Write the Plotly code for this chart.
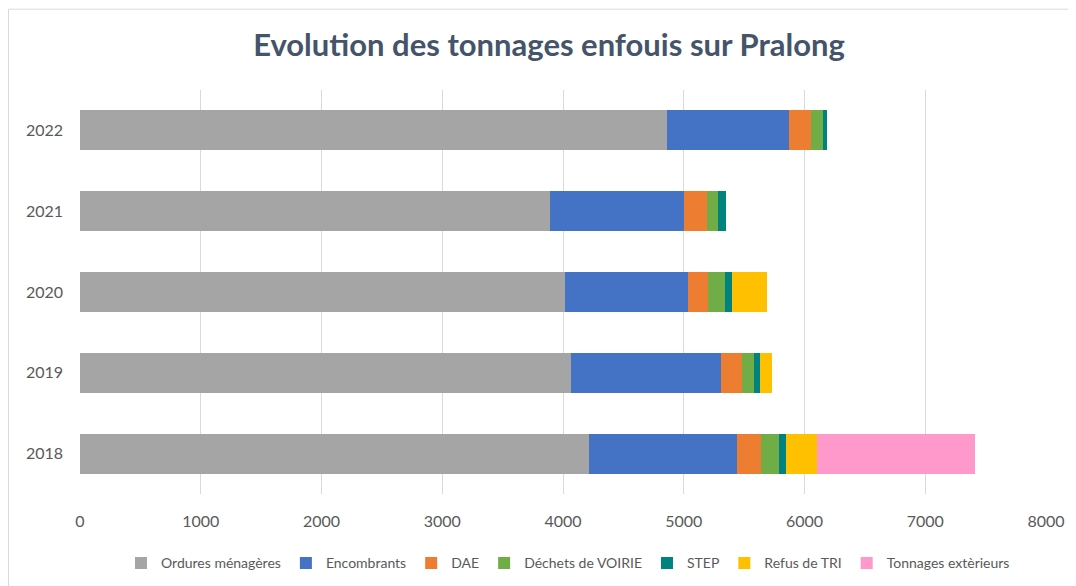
import plotly.graph_objects as go

years = ["2018", "2019", "2020", "2021", "2022"]
series_names = ["Ordures ménagères", "Encombrants", "DAE", "Déchets de VOIRIE",
                "STEP", "Refus de TRI", "Tonnages extèrieurs"]
ordures = [4212, 4066, 4017, 3892, 4864]
encombrants = [1226, 1240, 1015, 1107, 1008]
dae = [204, 176, 169, 196, 185]
voirie = [143, 100, 138, 92, 94]
step = [62, 52, 61, 60, 32]
refus = [259, 94, 292, 0, 0]
exterieurs = [1303, 0, 0, 0, 0]
colors = ["#A5A5A5", "#4472C4", "#ED7D31", "#70AD47", "#00827F", "#FFC000", "#FF99CC"]
x_ticks = [0, 1000, 2000, 3000, 4000, 5000, 6000, 7000, 8000]

values = [ordures, encombrants, dae, voirie, step, refus, exterieurs]

fig = go.Figure()
for name, vals, col in zip(series_names, values, colors):
    fig.add_trace(go.Bar(y=years, x=vals, name=name, orientation="h",
                         marker=dict(color=col, line=dict(width=0))))

OFF = 8  # browser body margin
W, H = 1076 - OFF, 586 - OFF
l, r, t, b = 80 - OFF, 30, 89.5 - OFF, 91.5
pw, ph = W - l - r, H - t - b

def px(xp):
    return (xp - OFF - l) / pw

def py(yp):
    return (H - b - (yp - OFF)) / ph

fig.update_layout(
    width=W, height=H,
    barmode="stack", bargap=0.505,
    margin=dict(l=l, r=r, t=t, b=b, pad=0, autoexpand=False),
    paper_bgcolor="white", plot_bgcolor="white",
    font=dict(family="Lato, Open Sans, sans-serif", color="#595959", size=15),
    title=dict(text="<b>Evolution des tonnages enfouis sur Pralong</b>",
               x=(549 - OFF) / W, xanchor="center", xref="container",
               y=1 - (45 - OFF) / H, yref="container", yanchor="middle",
               font=dict(size=31, color="#44546A", family="Lato, Open Sans, sans-serif")),
    xaxis=dict(range=[0, 8000], tickvals=x_ticks, showgrid=True, gridcolor="#D9D9D9",
               gridwidth=1, zeroline=False, showline=False, ticks="",
               ticklabelstandoff=16,
               tickfont=dict(size=16, color="#595959"), fixedrange=True),
    yaxis=dict(type="category", categoryorder="array", categoryarray=years,
               showgrid=False, zeroline=False, showline=False, ticks="",
               ticklabelstandoff=16,
               tickfont=dict(size=16, color="#595959"), fixedrange=True),
    legend=dict(orientation="h", x=px(568), xanchor="center", y=py(564), yanchor="middle",
                font=dict(size=14, color="#595959"), traceorder="normal",
                itemwidth=30, tracegroupgap=0, bgcolor="rgba(0,0,0,0)"),
    shapes=[dict(type="rect", xref="paper", yref="paper",
                 x0=px(8.5), x1=px(1200), y0=py(700), y1=py(8.5),
                 line=dict(color="#D9D9D9", width=1), fillcolor="rgba(0,0,0,0)", layer="below")],
)

fig.write_html("out.html")
